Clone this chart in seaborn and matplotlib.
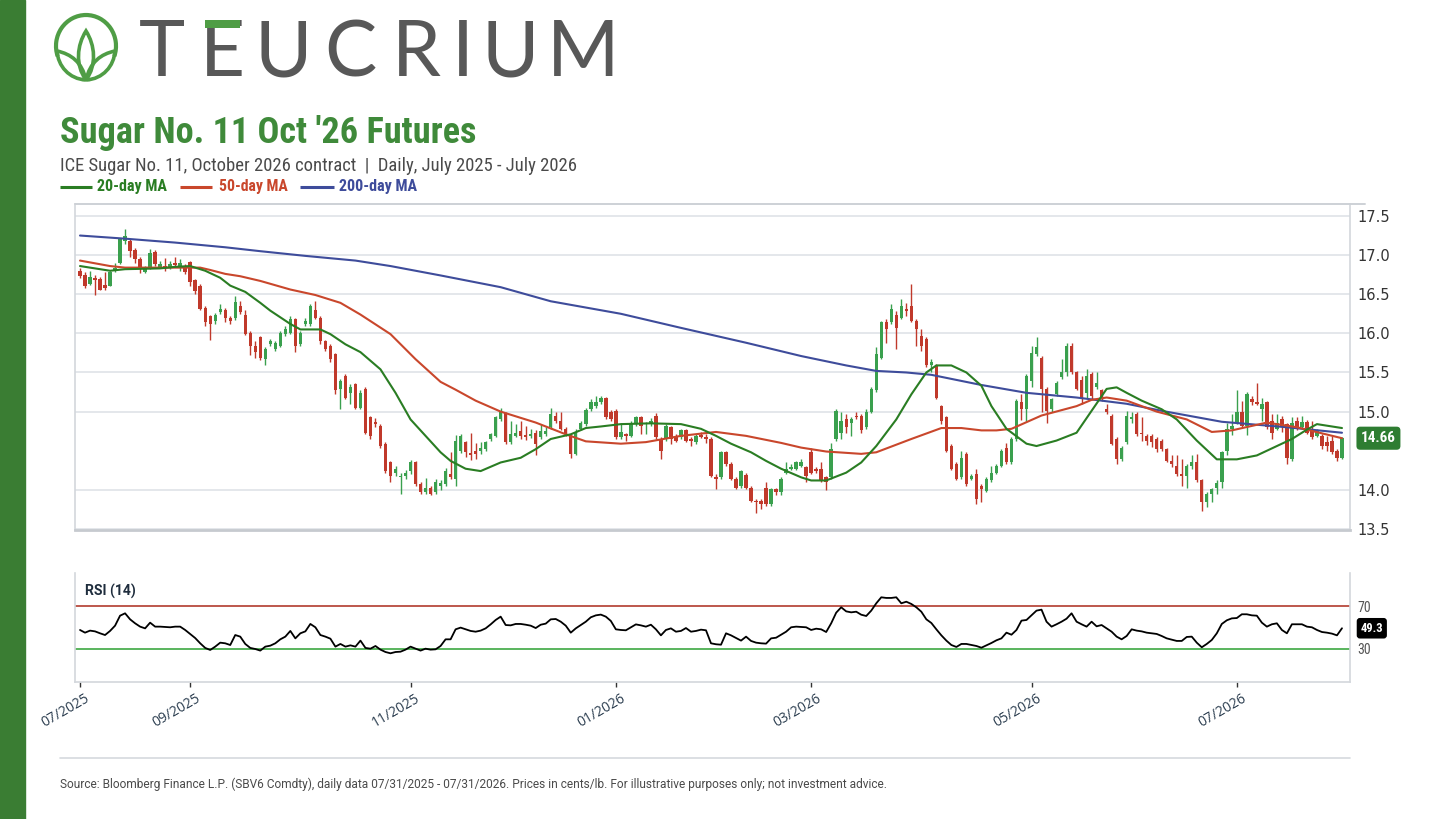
import os
import numpy as np
import pandas as pd
import matplotlib
matplotlib.use("Agg")
import matplotlib.pyplot as plt
import matplotlib.transforms as mtransforms
from matplotlib import font_manager as fm
from matplotlib.patches import Rectangle, Arc, PathPatch
from matplotlib.path import Path
from matplotlib.textpath import TextPath
import seaborn as sns

# ---------------- data ----------------
HOLIDAYS = ["2025-09-01", "2025-11-27", "2025-12-25", "2026-01-01", "2026-01-19",
            "2026-02-16", "2026-05-25", "2026-06-19", "2026-07-03"]

opens = [
    16.80, 16.74, 16.63, 16.71, 16.70, 16.62, 16.61, 16.80, 16.90, 17.18,
    17.18, 17.07, 16.95, 16.79, 16.84, 17.04, 16.84, 16.86, 16.84, 16.90,
    16.83, 16.86, 16.91, 16.68, 16.61, 16.33, 16.22, 16.16, 16.27, 16.30,
    16.20, 16.19, 16.35, 16.24, 16.01, 15.84, 15.95, 15.67, 15.86, 15.80,
    15.84, 15.99, 16.01, 16.18, 15.86, 16.12, 16.12, 16.30, 16.20, 15.90,
    15.84, 15.73, 15.29, 15.46, 15.24, 15.35, 15.05, 15.29, 14.93, 14.87,
    14.82, 14.59, 14.35, 14.22, 14.16, 14.18, 14.24, 14.35, 14.07, 13.97,
    14.03, 13.97, 14.05, 14.07, 14.20, 14.14, 14.50, 14.61, 14.47, 14.50,
    14.50, 14.52, 14.65, 14.69, 14.90, 14.98, 14.61, 14.69, 14.75, 14.70,
    14.69, 14.73, 14.67, 14.71, 14.80, 14.95, 14.88, 14.78, 14.69, 14.46,
    14.78, 14.84, 15.03, 15.07, 15.12, 15.17, 15.00, 15.01, 14.67, 14.71,
    14.69, 14.84, 14.93, 14.84, 14.84, 14.95, 14.65, 14.65, 14.80, 14.69,
    14.67, 14.76, 14.65, 14.61, 14.70, 14.67, 14.65, 14.17, 14.16, 14.48,
    14.33, 14.14, 14.05, 14.19, 14.03, 13.86, 13.86, 14.03, 13.82, 14.01,
    13.97, 14.22, 14.27, 14.27, 14.31, 14.29, 14.48, 14.27, 14.27, 14.16,
    14.16, 14.65, 14.73, 14.90, 14.86, 14.95, 14.95, 14.80, 15.00, 15.27,
    15.69, 16.14, 16.14, 16.24, 16.20, 16.31, 16.35, 16.16, 15.97, 15.93,
    15.59, 15.59, 15.07, 14.93, 14.56, 14.33, 14.16, 14.46, 14.14, 14.20,
    14.05, 13.99, 14.12, 14.22, 14.31, 14.54, 14.35, 14.65, 15.12, 15.03,
    15.39, 15.73, 15.69, 15.29, 15.03, 15.22, 15.44, 15.50, 15.84, 15.50,
    15.41, 15.24, 15.48, 15.31, 15.27, 15.03, 14.95, 14.65, 14.39, 14.61,
    14.90, 14.97, 14.73, 14.69, 14.69, 14.65, 14.63, 14.52, 14.37, 14.31,
    14.20, 14.18, 14.31, 14.35, 14.12, 13.84, 13.95, 14.03, 14.10, 14.50,
    14.78, 14.86, 15.00, 14.82, 15.16, 15.12, 15.03, 15.12, 14.88, 14.78,
    14.90, 14.84, 14.39, 14.88, 14.80, 14.87, 14.76, 14.69, 14.69, 14.61,
    14.63, 14.50, 14.41]

closes = [
    16.73, 16.61, 16.72, 16.68, 16.56, 16.58, 16.78, 16.84, 17.20, 17.25,
    17.05, 16.95, 16.82, 16.84, 17.03, 16.88, 16.88, 16.84, 16.88, 16.87,
    16.90, 16.78, 16.65, 16.54, 16.31, 16.14, 16.12, 16.24, 16.31, 16.20,
    16.16, 16.40, 16.27, 15.99, 15.84, 15.76, 15.69, 15.80, 15.90, 15.88,
    16.01, 16.05, 16.18, 15.84, 16.01, 16.16, 16.35, 16.20, 15.90, 15.80,
    15.67, 15.27, 15.39, 15.18, 15.31, 15.05, 15.24, 14.73, 14.69, 14.84,
    14.56, 14.24, 14.18, 14.27, 14.18, 14.22, 14.35, 14.07, 13.97, 14.03,
    13.95, 14.10, 14.09, 14.24, 14.16, 14.63, 14.69, 14.48, 14.45, 14.46,
    14.54, 14.61, 14.71, 14.93, 15.00, 14.61, 14.71, 14.73, 14.69, 14.68,
    14.71, 14.59, 14.75, 14.75, 14.97, 14.88, 14.78, 14.71, 14.46, 14.74,
    14.86, 15.02, 15.12, 15.12, 15.18, 14.93, 14.90, 14.67, 14.74, 14.69,
    14.86, 14.93, 14.82, 14.85, 14.88, 14.67, 14.50, 14.82, 14.65, 14.63,
    14.76, 14.63, 14.63, 14.69, 14.68, 14.65, 14.18, 14.14, 14.48, 14.33,
    14.14, 14.03, 14.24, 14.03, 13.86, 13.84, 13.82, 13.82, 14.01, 13.97,
    14.14, 14.27, 14.29, 14.35, 14.35, 14.18, 14.22, 14.24, 14.12, 14.10,
    14.52, 15.01, 14.88, 14.80, 14.90, 14.93, 14.76, 15.00, 15.29, 15.73,
    16.14, 16.05, 16.31, 16.07, 16.35, 16.29, 16.16, 16.05, 15.84, 15.59,
    15.63, 15.18, 14.88, 14.50, 14.27, 14.14, 14.41, 14.07, 14.18, 13.88,
    14.01, 14.14, 14.22, 14.31, 14.50, 14.35, 14.65, 15.14, 15.03, 15.46,
    15.75, 15.82, 15.29, 15.01, 15.16, 15.37, 15.50, 15.84, 15.50, 15.29,
    15.18, 15.46, 15.20, 15.37, 15.16, 14.99, 14.59, 14.39, 14.54, 14.95,
    14.93, 14.71, 14.71, 14.63, 14.61, 14.52, 14.52, 14.37, 14.33, 14.20,
    14.18, 14.31, 14.35, 14.12, 13.84, 13.95, 14.01, 14.09, 14.48, 14.78,
    14.82, 14.99, 14.82, 15.22, 15.12, 15.10, 15.10, 14.80, 14.73, 14.86,
    14.80, 14.41, 14.86, 14.78, 14.87, 14.73, 14.67, 14.76, 14.56, 14.56,
    14.48, 14.41, 14.66]

highs = [
    16.84, 16.78, 16.80, 16.74, 16.72, 16.78, 16.80, 16.90, 17.22, 17.33,
    17.20, 17.09, 16.97, 16.86, 17.08, 17.06, 16.92, 16.96, 16.92, 16.98,
    16.95, 16.88, 16.93, 16.70, 16.63, 16.35, 16.24, 16.26, 16.37, 16.33,
    16.22, 16.48, 16.41, 16.30, 16.03, 15.90, 15.97, 15.82, 15.93, 15.90,
    16.03, 16.10, 16.22, 16.20, 16.03, 16.20, 16.38, 16.41, 16.22, 15.92,
    15.86, 15.75, 15.42, 15.48, 15.35, 15.37, 15.27, 15.31, 14.95, 14.92,
    14.84, 14.61, 14.37, 14.31, 14.22, 14.26, 14.38, 14.37, 14.10, 14.15,
    14.05, 14.14, 14.12, 14.28, 14.48, 14.70, 14.72, 14.63, 14.73, 14.60,
    14.61, 14.63, 14.73, 14.95, 15.04, 15.00, 14.88, 14.84, 14.88, 14.82,
    14.78, 14.76, 14.84, 14.80, 15.05, 14.99, 14.99, 14.80, 14.71, 14.78,
    14.88, 15.05, 15.16, 15.20, 15.20, 15.19, 15.02, 15.03, 14.86, 14.73,
    14.88, 14.95, 14.95, 14.87, 14.92, 14.98, 14.67, 14.84, 14.82, 14.72,
    14.78, 14.78, 14.67, 14.71, 14.74, 14.72, 14.67, 14.20, 14.50, 14.50,
    14.35, 14.16, 14.26, 14.21, 14.05, 13.88, 13.88, 14.10, 14.03, 14.03,
    14.16, 14.35, 14.33, 14.37, 14.40, 14.31, 14.54, 14.29, 14.35, 14.18,
    14.60, 15.03, 14.99, 14.97, 14.93, 14.99, 14.97, 15.03, 15.31, 15.82,
    16.16, 16.18, 16.37, 16.29, 16.44, 16.39, 16.63, 16.18, 16.05, 15.95,
    15.67, 15.61, 15.09, 14.95, 14.58, 14.35, 14.50, 14.48, 14.20, 14.27,
    14.07, 14.16, 14.30, 14.33, 14.52, 14.60, 14.67, 15.16, 15.22, 15.48,
    15.84, 15.95, 15.71, 15.31, 15.18, 15.39, 15.67, 15.88, 15.88, 15.52,
    15.46, 15.54, 15.50, 15.50, 15.29, 15.10, 14.97, 14.67, 14.56, 15.01,
    14.99, 14.99, 14.93, 14.71, 14.71, 14.67, 14.65, 14.54, 14.44, 14.44,
    14.39, 14.33, 14.44, 14.46, 14.14, 13.97, 14.03, 14.12, 14.50, 14.86,
    14.97, 15.27, 15.14, 15.25, 15.20, 15.37, 15.18, 15.14, 14.97, 14.97,
    14.95, 14.86, 14.93, 14.93, 14.95, 14.89, 14.88, 14.78, 14.71, 14.69,
    14.69, 14.52, 14.67]

lows = [
    16.71, 16.58, 16.62, 16.49, 16.55, 16.56, 16.60, 16.78, 16.88, 17.14,
    16.97, 16.90, 16.77, 16.77, 16.82, 16.86, 16.83, 16.80, 16.82, 16.85,
    16.80, 16.76, 16.60, 16.50, 16.30, 16.10, 15.92, 16.12, 16.25, 16.15,
    16.12, 16.17, 16.25, 15.98, 15.72, 15.69, 15.66, 15.59, 15.84, 15.78,
    15.82, 15.97, 15.99, 15.76, 15.84, 16.10, 16.10, 16.18, 15.86, 15.78,
    15.64, 15.22, 15.03, 15.16, 15.10, 15.03, 15.03, 14.71, 14.65, 14.80,
    14.54, 14.22, 14.10, 14.18, 13.95, 14.14, 14.20, 14.05, 13.95, 13.95,
    13.93, 13.95, 14.00, 14.05, 14.14, 14.05, 14.47, 14.42, 14.38, 14.40,
    14.46, 14.50, 14.63, 14.67, 14.88, 14.58, 14.59, 14.67, 14.65, 14.64,
    14.66, 14.44, 14.65, 14.69, 14.78, 14.86, 14.76, 14.69, 14.41, 14.44,
    14.76, 14.82, 15.01, 15.05, 15.10, 14.91, 14.88, 14.65, 14.65, 14.63,
    14.67, 14.82, 14.72, 14.71, 14.82, 14.65, 14.39, 14.63, 14.58, 14.61,
    14.65, 14.61, 14.56, 14.59, 14.66, 14.60, 14.16, 14.01, 14.14, 14.31,
    14.12, 14.01, 14.03, 14.01, 13.84, 13.71, 13.76, 13.80, 13.80, 13.94,
    13.93, 14.20, 14.25, 14.25, 14.29, 14.10, 14.20, 14.22, 14.10, 14.00,
    14.14, 14.63, 14.65, 14.73, 14.69, 14.90, 14.73, 14.78, 14.98, 15.25,
    15.67, 15.88, 16.12, 15.80, 16.18, 16.22, 16.14, 15.84, 15.78, 15.57,
    15.50, 15.16, 14.84, 14.48, 14.25, 14.12, 14.14, 14.05, 14.12, 13.82,
    13.84, 13.97, 14.10, 14.20, 14.29, 14.33, 14.33, 14.63, 14.89, 14.88,
    15.31, 15.71, 15.00, 14.86, 15.00, 15.20, 15.42, 15.46, 15.48, 15.27,
    15.10, 15.18, 15.16, 15.29, 15.14, 14.97, 14.57, 14.33, 14.37, 14.59,
    14.86, 14.69, 14.63, 14.57, 14.55, 14.48, 14.50, 14.35, 14.29, 14.18,
    14.05, 14.03, 14.27, 14.10, 13.73, 13.78, 13.84, 13.95, 14.03, 14.45,
    14.70, 14.84, 14.80, 14.70, 15.08, 15.08, 14.88, 14.78, 14.65, 14.76,
    14.74, 14.33, 14.37, 14.76, 14.78, 14.71, 14.65, 14.67, 14.52, 14.50,
    14.46, 14.37, 14.39]

# moving averages, read at sample trading-day positions
ma20_day = [0, 2, 6, 9, 16, 19, 22, 25, 28, 30, 33, 36, 38, 42, 44, 48, 50, 53, 56, 60,
            63, 66, 70, 72, 74, 77, 80, 84, 88, 91, 94, 98, 101, 104, 108, 114, 120, 124,
            127, 130, 134, 137, 140, 144, 146, 149, 153, 156, 159, 163, 166, 169, 171, 174,
            177, 180, 182, 185, 189, 191, 195, 199, 202, 205, 207, 209, 212, 216, 219, 223,
            227, 231, 235, 239, 242, 245, 247, 251, 252]
ma20_val = [16.86, 16.84, 16.80, 16.82, 16.83, 16.85, 16.86, 16.80, 16.71, 16.61, 16.53,
            16.39, 16.29, 16.12, 16.05, 16.05, 15.99, 15.86, 15.76, 15.54, 15.24, 14.90,
            14.62, 14.48, 14.37, 14.27, 14.24, 14.35, 14.41, 14.52, 14.65, 14.71, 14.79,
            14.81, 14.84, 14.85, 14.84, 14.78, 14.69, 14.59, 14.48, 14.37, 14.27, 14.16,
            14.12, 14.12, 14.22, 14.35, 14.56, 14.90, 15.22, 15.50, 15.59, 15.59, 15.50,
            15.33, 15.07, 14.78, 14.59, 14.56, 14.63, 14.73, 15.01, 15.29, 15.31, 15.24,
            15.14, 15.03, 14.90, 14.63, 14.39, 14.39, 14.44, 14.56, 14.65, 14.77, 14.84,
            14.80, 14.79]

ma50_day = [0, 6, 9, 19, 24, 26, 29, 32, 36, 42, 47, 52, 56, 62, 67, 72, 75, 79, 84, 91,
            97, 101, 108, 113, 120, 127, 133, 140, 144, 149, 156, 159, 166, 172, 176, 180,
            183, 186, 192, 199, 202, 205, 209, 215, 221, 226, 230, 237, 243, 252]
ma50_val = [16.93, 16.86, 16.84, 16.84, 16.84, 16.81, 16.76, 16.73, 16.67, 16.56, 16.49,
            16.39, 16.24, 15.99, 15.67, 15.38, 15.28, 15.14, 15.00, 14.86, 14.71, 14.62,
            14.59, 14.61, 14.69, 14.74, 14.69, 14.60, 14.54, 14.49, 14.46, 14.48, 14.65,
            14.79, 14.79, 14.76, 14.76, 14.78, 14.95, 15.07, 15.15, 15.18, 15.14, 15.00,
            14.90, 14.74, 14.76, 14.86, 14.80, 14.66]

ma200_day = [0, 9, 19, 29, 36, 45, 55, 62, 72, 84, 94, 108, 120, 133, 144, 153, 159, 165,
             170, 180, 189, 199, 209, 216, 228, 241, 252]
ma200_val = [17.25, 17.21, 17.16, 17.10, 17.05, 16.99, 16.93, 16.86, 16.74, 16.59, 16.41,
             16.25, 16.07, 15.88, 15.71, 15.59, 15.52, 15.50, 15.47, 15.34, 15.24, 15.18,
             15.10, 15.01, 14.87, 14.80, 14.73]

rsi14 = [
    47.7, 45.2, 47.1, 46.4, 44.6, 43.0, 46.8, 51.7, 61.0, 63.2,
    57.6, 53.9, 50.8, 49.2, 54.5, 50.8, 50.8, 50.5, 50.2, 50.8,
    50.8, 47.7, 44.0, 40.2, 35.3, 31.0, 29.1, 32.2, 35.9, 35.3,
    33.7, 43.0, 41.5, 34.7, 31.0, 30.0, 28.5, 32.2, 33.1, 35.3,
    39.0, 41.5, 46.8, 39.9, 44.6, 46.4, 53.3, 50.2, 43.0, 41.5,
    39.6, 32.2, 34.7, 32.2, 33.4, 32.2, 37.8, 31.0, 30.3, 32.8,
    29.4, 27.2, 26.0, 27.2, 27.5, 29.4, 32.2, 30.3, 28.5, 30.3,
    29.4, 29.7, 32.8, 39.0, 39.0, 48.3, 49.9, 48.3, 46.8, 46.1,
    47.1, 49.2, 52.9, 57.0, 60.1, 52.3, 52.0, 53.3, 53.3, 52.6,
    51.7, 49.5, 52.6, 53.6, 57.6, 57.9, 55.4, 51.7, 45.2, 49.2,
    52.3, 55.4, 59.5, 61.3, 62.0, 60.1, 56.1, 48.3, 47.7, 47.4,
    50.2, 52.9, 52.0, 50.8, 52.6, 48.3, 42.7, 47.7, 49.2, 46.1,
    46.8, 49.5, 46.1, 46.8, 48.0, 47.4, 35.3, 34.4, 34.0, 44.6,
    42.7, 40.2, 37.8, 41.5, 37.5, 35.9, 35.3, 35.0, 39.9, 40.5,
    43.3, 46.1, 50.2, 50.8, 50.5, 50.2, 47.7, 48.9, 48.3, 45.8,
    53.9, 63.8, 68.8, 65.0, 64.1, 64.7, 61.9, 60.7, 65.7, 72.5,
    78.1, 77.5, 77.5, 78.1, 72.5, 74.0, 71.9, 68.8, 64.7, 57.6,
    54.2, 48.3, 42.7, 37.8, 33.7, 31.9, 34.7, 34.7, 33.7, 32.8,
    31.2, 33.4, 35.6, 38.1, 39.9, 45.2, 43.3, 47.7, 56.4, 57.0,
    61.3, 65.7, 66.6, 55.4, 50.8, 53.0, 55.4, 58.2, 63.2, 55.4,
    53.0, 50.8, 55.4, 51.1, 52.3, 49.2, 46.1, 41.5, 39.0, 42.1,
    48.3, 47.1, 46.4, 45.2, 44.6, 44.0, 42.1, 39.9, 38.7, 37.5,
    37.5, 41.2, 41.5, 35.9, 31.6, 34.7, 38.4, 44.6, 53.3, 56.7,
    58.5, 58.8, 62.3, 62.3, 61.3, 61.0, 54.5, 50.8, 53.0, 53.9,
    47.7, 44.6, 53.0, 53.0, 53.0, 50.8, 50.2, 47.7, 45.8, 45.2,
    44.3, 42.7, 49.3]

price_ticks = [13.5, 14.0, 15.0, 15.5, 16.0, 16.5, 17.0, 17.5]
rsi_levels = [30, 70]

TITLE = "Sugar No. 11 Oct '26 Futures"
SUBTITLE = "ICE Sugar No. 11, October 2026 contract  |  Daily, July 2025 - July 2026"
LEGEND_LABELS = ["20-day MA", "50-day MA", "200-day MA"]
FOOTER = ("Source: Bloomberg Finance L.P. (SBV6 Comdty), daily data 07/31/2025 - 07/31/2026. "
          "Prices in cents/lb. For illustrative purposes only; not investment advice.")
LOGO_LETTERS = list("TEUCRIUM")

# ---------------- style ----------------
sns.set_theme(style="white")
plt.rcParams["font.family"] = ["DejaVu Sans"]

UP_C, DN_C = "#3aa04e", "#c0392b"
C20, C50, C200 = "#2a7d23", "#c9472c", "#3e4c9b"
TITLE_G = "#3f8a3a"
BAR_G = "#3a7d33"
LOGO_G = "#4f9d45"
GRID_C = "#dfe3e8"
SPINE_C = "#d3d7dc"

W, H = 1456, 819
fig = plt.figure(figsize=(W / 100, H / 100), dpi=100)
fig.patch.set_facecolor("white")


def rect(l, t, r, b):
    return [l / W, 1 - b / H, (r - l) / W, (b - t) / H]


def pick_font(bold):
    prefs = ["Roboto Condensed", "Roboto", "Noto Sans", "Open Sans",
             "Liberation Sans Narrow", "Liberation Sans", "DejaVu Sans"]
    cands = []
    for f in fm.fontManager.ttflist:
        nm = f.name
        fn = os.path.basename(f.fname)
        cond = ("Condensed" in nm or "Narrow" in nm or "Condensed" in fn or "Narrow" in fn
                or str(f.stretch) in ("condensed", "semi-condensed"))
        if not cond or "Italic" in fn or "Oblique" in fn or f.style != "normal":
            continue
        w = f.weight if isinstance(f.weight, (int, float)) else fm.weight_dict.get(f.weight, 400)
        target = 700 if bold else 400
        if abs(w - target) > 150:
            continue
        rank = next((k for k, p in enumerate(prefs) if nm.startswith(p)), 99)
        cands.append((rank, abs(w - target), f.fname))
    if cands:
        return fm.FontProperties(fname=sorted(cands)[0][2])
    return fm.FontProperties(family="Roboto", weight="bold" if bold else "normal")


fp_bc = pick_font(True)
fp_rc = pick_font(False)
fp_rob = fm.FontProperties(family=["Roboto", "DejaVu Sans"])
fp_robb = fm.FontProperties(family=["Roboto", "DejaVu Sans"], weight="bold")

# ---------------- axes ----------------
ax = fig.add_axes(rect(75, 204, 1350, 530))
rax = fig.add_axes(rect(75, 573, 1350, 682), sharex=ax)
ov = fig.add_axes([0, 0, 1, 1], zorder=10)
ov.set_xlim(0, W)
ov.set_ylim(H, 0)
ov.axis("off")

n = len(closes)
dates = pd.bdate_range("2025-07-31", "2026-07-31", freq="C", holidays=HOLIDAYS)[-n:]
xi = np.arange(n)
o, c, h, l = (np.array(v) for v in (opens, closes, highs, lows))
col = np.where(c >= o, UP_C, DN_C)

ax.vlines(xi, l, h, colors=col, linewidth=1.0, zorder=2)
ax.bar(xi, np.maximum(np.abs(c - o), 0.015), bottom=np.minimum(o, c), width=0.68,
       color=col, linewidth=0, zorder=3)

sns.lineplot(x=ma200_day, y=ma200_val, ax=ax, color=C200, linewidth=1.5, zorder=4)
sns.lineplot(x=ma50_day, y=ma50_val, ax=ax, color=C50, linewidth=1.5, zorder=5)
sns.lineplot(x=ma20_day, y=ma20_val, ax=ax, color=C20, linewidth=1.5, zorder=6)

ax.set_xlim(-1, 253.6)
ax.set_ylim(13.487, 17.653)
ax.yaxis.tick_right()
ax.set_yticks(price_ticks)
ax.set_yticklabels([f"{v:.1f}" for v in price_ticks])
ax.tick_params(axis="y", length=0, pad=5, labelsize=10.5, labelcolor="#333333")
ax.tick_params(axis="x", bottom=False, labelbottom=False)
ax.grid(axis="y", color=GRID_C, linewidth=1.2)
ax.grid(axis="x", visible=False)
ax.set_axisbelow(True)
ax.set_xlabel("")
ax.set_ylabel("")
ax.spines["top"].set_visible(False)
for s in ("left", "right"):
    ax.spines[s].set_color(SPINE_C)
    ax.spines[s].set_linewidth(1.2)
ax.spines["bottom"].set_color("#c6cacf")
ax.spines["bottom"].set_linewidth(2.0)

# RSI panel
rax.axhline(rsi_levels[1], color="#b84a3e", linewidth=1.3, zorder=1)
rax.axhline(rsi_levels[0], color="#4caf50", linewidth=1.3, zorder=1)
sns.lineplot(x=xi, y=rsi14, ax=rax, color="black", linewidth=1.3, zorder=3)
rax.set_ylim(-0.7, 100.7)
rax.yaxis.tick_right()
rax.set_yticks(rsi_levels)
rax.set_yticklabels([str(v) for v in rsi_levels])
rax.tick_params(axis="y", length=0, pad=5, labelsize=9.5, labelcolor="#555555")
for t in rax.get_yticklabels():
    t.set_fontproperties(fp_rc)
    t.set_fontsize(10)
rax.grid(False)
rax.set_xlabel("")
rax.set_ylabel("")
rax.spines["top"].set_visible(False)
for s in ("left", "right", "bottom"):
    rax.spines[s].set_color(SPINE_C)
    rax.spines[s].set_linewidth(1.2)

pos = pd.Series(xi, index=dates)
first = pos.groupby([dates.year, dates.month]).min()
tick_idx = [int(v) for (yy, mm), v in first.items() if mm % 2 == 1]
tick_lab = [dates[v].strftime("%m/%Y") for v in tick_idx]
rax.set_xticks(tick_idx)
rax.set_xticklabels(tick_lab, rotation=30, ha="right", rotation_mode="anchor")
rax.tick_params(axis="x", bottom=True, length=3.6, width=1.0, color="#333333",
                direction="out", pad=3, labelsize=10, labelcolor="#2c3e50")
shift = mtransforms.ScaledTranslation(5 / 100, 0, fig.dpi_scale_trans)
for t in rax.get_xticklabels():
    t.set_fontfamily(["Open Sans", "DejaVu Sans"])
    t.set_transform(t.get_transform() + shift)

# ---------------- decorations ----------------
renderer = fig.canvas.get_renderer()


def fit_text(x, y, s, width, fp, size0, **kw):
    t = ov.text(x, y, s, fontproperties=fp, fontsize=size0, **kw)
    bb = t.get_window_extent(renderer)
    t.set_fontsize(size0 * width / bb.width)
    return t


ov.add_patch(Rectangle((0, 0), 25, H, color=BAR_G, zorder=1))

# logo ring and leaves
ov.add_patch(Arc((86, 46), 60, 62, theta1=160, theta2=380, color=LOGO_G, linewidth=3.0))
leaves = [
    [(86, 80), (75, 65), (77, 45), (86, 31), (95, 45), (97, 65), (86, 80)],
    [(86, 80), (69, 79), (58, 66), (57, 51), (71, 54), (82, 62), (86, 80)],
    [(86, 80), (103, 79), (114, 66), (115, 51), (101, 54), (90, 62), (86, 80)],
]
for pts in leaves:
    codes = [Path.MOVETO] + [Path.CURVE4] * 6
    ov.add_patch(PathPatch(Path(pts, codes), fill=False, edgecolor=LOGO_G, linewidth=2.6))

# logo word: letters spread evenly over the logo's span
logo_fp = fm.FontProperties(family=["Lato", "Open Sans", "DejaVu Sans"])
e_ext = TextPath((0, 0), "E", size=100, prop=logo_fp).get_extents()
cap_px = 56.0
base_y = 76.5
fs_px = cap_px / (e_ext.y1 / 100)
fs_pt = fs_px * 72 / 100
exts = [TextPath((0, 0), ch, size=fs_px, prop=logo_fp).get_extents() for ch in LOGO_LETTERS]
widths = [e.x1 - e.x0 for e in exts]
left, right = 140.0, 612.0
gap = (right - left - sum(widths)) / (len(widths) - 1)
xcur = left
centers = []
for ch, w in zip(LOGO_LETTERS, widths):
    cx = xcur + w / 2
    centers.append(cx)
    ov.text(cx, base_y, ch, fontproperties=logo_fp, fontsize=fs_pt, ha="center",
            va="baseline", color="#585858", zorder=2)
    xcur += w + gap
ew = widths[1]
ov.add_patch(Rectangle((centers[1] - ew / 2 - 0.5, base_y - cap_px - 0.5), ew + 1.0, 8.0,
                       color=LOGO_G, linewidth=0, zorder=3))

fit_text(60, 143, TITLE, 417, fp_bc, 24, color=TITLE_G, ha="left", va="baseline")
fit_text(60, 171, SUBTITLE, 516, fp_rc, 12, color="#4a4a4a", ha="left", va="baseline")

leg = [(60, 92, 97, 70, C20), (180, 212, 219, 69, C50), (300, 334, 339, 78, C200)]
for (x0, x1, tx, tw, cc), lab in zip(leg, LEGEND_LABELS):
    ov.plot([x0, x1], [187, 187], color=cc, linewidth=2.2, solid_capstyle="butt")
    fit_text(tx, 191.5, lab, tw, fp_bc, 10, color=cc, ha="left", va="baseline")

ov.plot([75, 1365], [204, 204], color="#cdd1d6", linewidth=1.4)
ov.plot([60, 1350], [758, 758], color="#d5d9de", linewidth=1.2)

fit_text(85, 596, "RSI (14)", 51, fp_robb, 10, color="#1f2d3d", ha="left", va="baseline")
fit_text(60, 788, FOOTER, 829, fp_rob, 9, color="#4a4a4a", ha="left", va="baseline")

# value badges (placed at last values through the axes' data transforms)
y_last = H - ax.transData.transform((0, closes[-1]))[1]
tb = ov.text(1361, y_last, f"{closes[-1]:.2f}", fontproperties=fp_bc, fontsize=11,
             color="white", ha="left", va="center",
             bbox=dict(boxstyle="round,pad=0.3,rounding_size=0.25", fc="#2e7d32", ec="none"))
bb = tb.get_window_extent(renderer)
tb.set_fontsize(11 * 35 / bb.width)

y_rsi = H - rax.transData.transform((0, rsi14[-1]))[1]
rb = ov.text(1360.5, y_rsi, f"{rsi14[-1]:.1f}", fontproperties=fp_bc, fontsize=10,
             color="white", ha="left", va="center",
             bbox=dict(boxstyle="round,pad=0.3,rounding_size=0.25", fc="black", ec="none"))
bb = rb.get_window_extent(renderer)
rb.set_fontsize(10 * 23 / bb.width)

fig.savefig("out.png", dpi=100, facecolor="white")
